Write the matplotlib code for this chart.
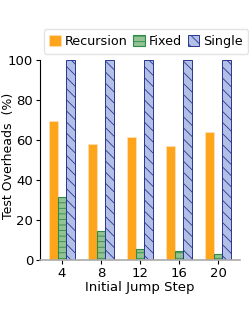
import numpy as np
import matplotlib
matplotlib.use("Agg")
import matplotlib.pyplot as plt

steps = ["4", "8", "12", "16", "20"]
recursion = [69.5, 58, 61.5, 57, 64]
fixed = [31.5, 14.5, 5.5, 4.5, 3]
single = [100, 100, 100, 100, 100]

plt.rcParams["hatch.linewidth"] = 0.6

fig = plt.figure(figsize=(2.49, 3.23), dpi=100)
ax = fig.add_axes([0.161, 0.195, 0.803, 0.619])

x = np.arange(len(steps))
w = 0.22

ax.bar(x - w, recursion, w, color="#FFA51C", edgecolor="#FFE0B0", linewidth=0.6, label="Recursion")
ax.bar(x, fixed, w, color="#93C293", edgecolor="#2E8B4A", linewidth=0.8, hatch="---", label="Fixed")
ax.bar(x + w, single, w, color="#B2C0E8", edgecolor="#2A3690", linewidth=0.7, hatch="\\\\\\", label="Single")

ax.set_xlim(-0.56, 4.56)
ax.set_ylim(0, 100)
ax.set_xticks(x)
ax.set_xticklabels(steps, fontsize=9.5)
ax.set_yticks([0, 20, 40, 60, 80, 100])
ax.tick_params(axis="y", labelsize=9.5, length=3, pad=2)
ax.tick_params(axis="x", length=3, pad=2)
ax.set_xlabel("Initial Jump Step", fontsize=9.5, labelpad=1)
ax.set_ylabel("Test Overheads  (%)", fontsize=9)
ax.yaxis.set_label_coords(-0.125, 0.52)

ax.spines["top"].set_visible(False)
ax.spines["right"].set_visible(False)
ax.spines["bottom"].set_color("#aaaaaa")
ax.spines["bottom"].set_linewidth(1.2)

ax.legend(ncol=3, fontsize=9.2, loc="lower center", bbox_to_anchor=(0.53, 1.02),
          handlelength=0.9, handleheight=0.9, handletextpad=0.3, columnspacing=0.45,
          borderpad=0.45, borderaxespad=0.2, frameon=True, edgecolor="#dddddd")

fig.savefig("out.png", dpi=100)
